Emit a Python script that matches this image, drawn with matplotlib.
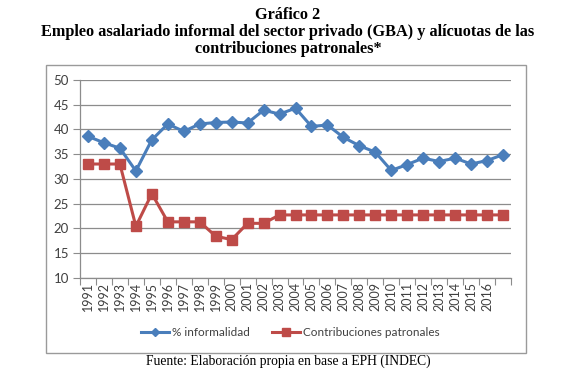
import matplotlib.pyplot as plt
import numpy as np
from matplotlib.patches import Rectangle

# Data
years = [str(y) for y in range(1991, 2017)] + [""]
informalidad = [38.6, 37.3, 36.2, 31.6, 37.9, 41.1, 39.6, 41.1, 41.4, 41.5,
                41.3, 43.9, 43.1, 44.3, 40.6, 40.9, 38.4, 36.7, 35.4, 31.7,
                32.9, 34.2, 33.5, 34.2, 33.0, 33.7, 34.9]
contribuciones = [33.0, 33.0, 33.0, 20.4, 27.0, 21.3, 21.3, 21.3, 18.4, 17.7,
                  21.0, 21.0, 22.7, 22.7, 22.7, 22.7, 22.7, 22.7, 22.7, 22.7,
                  22.7, 22.7, 22.7, 22.7, 22.7, 22.7, 22.7]

BLUE = "#4a7ebb"
RED = "#be4b48"
GRID = "#8c8c8c"
TXT = "#404040"

W, H = 576, 369
fig = plt.figure(figsize=(W / 100, H / 100), dpi=100)

# outer chart border
fig.patches.append(Rectangle((46 / W, 1 - 353 / H), 480 / W, 288 / H,
                             transform=fig.transFigure, fill=False,
                             edgecolor="#9a9a9a", linewidth=1.0))

ax = fig.add_axes([80 / W, 1 - 277.7 / H, 431 / W, 197.7 / H])
x = np.arange(len(years)) + 0.5
ax.plot(x, informalidad, color=BLUE, lw=2.2, marker="D", ms=6.5,
        label="% informalidad", zorder=3)
ax.plot(x, contribuciones, color=RED, lw=2.2, marker="s", ms=7.5,
        label="Contribuciones patronales", zorder=3)

ax.set_xlim(0, len(years))
ax.set_ylim(10, 50)
ax.set_yticks(np.arange(10, 51, 5))
ax.yaxis.grid(True, color=GRID, lw=0.9)
ax.set_axisbelow(True)

ax.set_xticks(np.arange(len(years) + 1))
ax.set_xticklabels([])
ax.set_xticks(x, minor=True)
ax.set_xticklabels(years, minor=True, rotation=90, fontsize=9,
                   family="Lato", color=TXT)
ax.tick_params(axis="x", which="major", length=5, color=GRID, direction="out")
ax.tick_params(axis="x", which="minor", length=0, pad=3)
ax.tick_params(axis="y", length=5, color=GRID, labelsize=9.5, labelcolor=TXT,
               pad=3)
for lbl in ax.get_yticklabels():
    lbl.set_family("Lato")

for s in ["top", "right"]:
    ax.spines[s].set_visible(False)
for s in ["left", "bottom"]:
    ax.spines[s].set_color(GRID)
    ax.spines[s].set_linewidth(0.9)

leg = fig.legend(loc="center", bbox_to_anchor=(290 / W, 1 - 333 / H), ncol=2,
                 frameon=False, prop={"family": "Lato", "size": 8.5},
                 handlelength=2.4, columnspacing=1.9, markerscale=0.7,
                 handletextpad=0.2)
for t in leg.get_texts():
    t.set_color(TXT)

fig.text(0.5, 1 - 15 / H, "Gráfico 2", ha="center", va="center",
         family="Liberation Serif", weight="bold", fontsize=11.7)
fig.text(0.5, 1 - 32 / H,
         "Empleo asalariado informal del sector privado (GBA) y alícuotas de las",
         ha="center", va="center", family="Liberation Serif", weight="bold",
         fontsize=11.7)
fig.text(0.5, 1 - 49 / H, "contribuciones patronales*", ha="center",
         va="center", family="Liberation Serif", weight="bold", fontsize=11.7)
fig.text(0.5, 1 - 361 / H, "Fuente: Elaboración propia en base a EPH (INDEC)",
         ha="center", va="center", family="Liberation Serif", fontsize=9.8)

fig.savefig("out.png", dpi=100)
